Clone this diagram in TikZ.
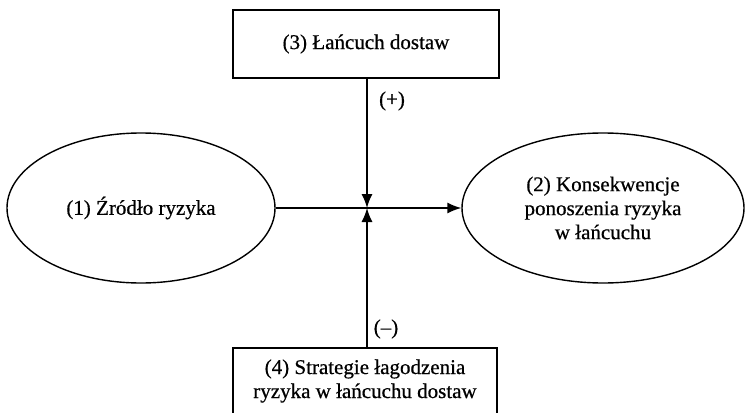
\documentclass[tikz,border=0pt]{standalone}
\usepackage{fontspec}
\setmainfont{Liberation Serif}[FakeBold=0.6]
\usetikzlibrary{shapes.geometric,arrows.meta}
\begin{document}
\begin{tikzpicture}[x=1pt,y=-1pt,
  every node/.style={font=\fontsize{21}{24}\selectfont},
  oval/.style={draw,line width=1.4pt,ellipse,inner sep=0pt,minimum width=268pt,minimum height=150pt,align=center},
  boxnode/.style={draw,line width=1.4pt,rectangle,inner sep=0pt,align=center},
  conn/.style={line width=1.4pt,-{Latex[length=14pt,width=11pt]}},
  sign/.style={inner sep=0pt}]
\useasboundingbox (0,0) rectangle (746,412);
\node[boxnode,minimum width=266pt,minimum height=68pt] (b3) at (366,44) {(3) Łańcuch dostaw};
\node[boxnode,minimum width=264pt,minimum height=66pt] (b4) at (365,381) {(4) Strategie łagodzenia\\ryzyka w łańcuchu dostaw};
\node[oval] (e1) at (141,208) {(1) Źródło ryzyka};
\node[oval,minimum width=282pt] (e2) at (603,208) {(2) Konsekwencje\\ponoszenia ryzyka\\w łańcuchu};
\coordinate (c) at (367,208);
\draw[conn] (e1.east) -- (e2.west);
\draw[conn] (b3.south -| c) -- (c);
\draw[conn] (b4.north -| c) -- (c);
\node[sign] (plus) at (392,101) {(+)};
\node[sign] (minus) at (386,329) {(–)};
\end{tikzpicture}
\end{document}
